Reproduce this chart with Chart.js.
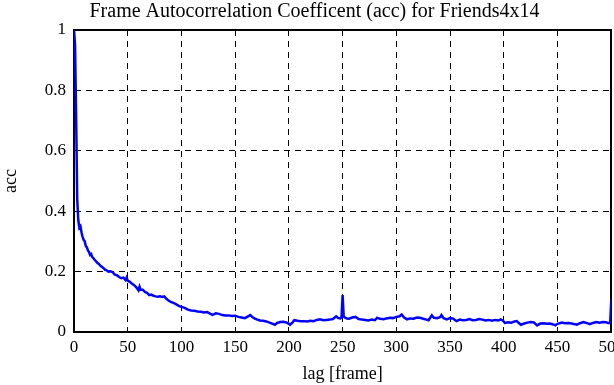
<!DOCTYPE html>
<html>
<head>
<meta charset="utf-8">
<script src="https://cdn.jsdelivr.net/npm/chart.js@4/dist/chart.umd.min.js"></script>
<style>
    html, body { margin: 0; padding: 0; background: #fff; overflow: hidden; }
    #wrap { position: relative; width: 629px; height: 385px; }
</style>
</head>
<body>
<div id="wrap"><canvas id="accChart"></canvas></div>
<script>
// Values
const titleText = 'Frame Autocorrelation Coefficent (acc) for Friends4x14';
const xLabel = 'lag [frame]';
const yLabel = 'acc';

const lags = [
    0, 1, 2, 3, 4, 5, 6, 7, 8, 9, 10, 11, 12, 13, 14, 15, 16, 17, 18, 19,
    20, 21, 22, 23, 24, 25, 26, 27, 28, 29, 30, 32, 34, 36, 38, 40, 42, 44, 46, 48,
    49, 50, 52, 54, 56, 58, 60, 61, 62, 64, 66, 68, 70, 72, 74, 76, 78, 80, 82, 84,
    86, 88, 90, 92, 94, 96, 98, 100, 103, 106, 109, 112, 115, 118, 121, 124, 127, 129, 132, 135,
    138, 141, 144, 147, 150, 153, 156, 159, 162, 164, 166, 168, 170, 173, 176, 179, 182, 185, 187, 189,
    192, 195, 198, 200, 201, 203, 205, 208, 211, 214, 217, 220, 223, 226, 229, 232, 235, 238, 241, 244,
    246, 248, 249, 250, 251, 252, 254, 256, 259, 262, 265, 268, 271, 274, 277, 280, 282, 285, 288, 291,
    294, 297, 300, 303, 305, 307, 310, 313, 316, 319, 322, 325, 328, 330, 333, 335, 338, 341, 342, 344,
    347, 350, 353, 356, 359, 362, 365, 368, 371, 374, 377, 380, 383, 386, 389, 392, 395, 397, 399, 401,
    404, 407, 410, 412, 414, 416, 419, 422, 425, 428, 431, 434, 437, 440, 443, 446, 448, 450, 452, 454,
    457, 460, 463, 466, 468, 471, 474, 477, 480, 483, 486, 489, 492, 495, 497, 499, 500
];

const acc = [
    1.0, 0.95, 0.71, 0.44, 0.37, 0.345, 0.35, 0.33, 0.315, 0.305, 0.30, 0.285, 0.28, 0.27, 0.265, 0.255, 0.258, 0.248, 0.245, 0.24,
    0.236, 0.232, 0.228, 0.226, 0.222, 0.218, 0.216, 0.213, 0.21, 0.206, 0.205, 0.20, 0.201, 0.198, 0.19, 0.188, 0.182, 0.178, 0.18, 0.172,
    0.18, 0.17, 0.166, 0.16, 0.155, 0.148, 0.138, 0.15, 0.14, 0.14, 0.133, 0.13, 0.122, 0.124, 0.12, 0.118, 0.117, 0.118, 0.116, 0.118,
    0.11, 0.104, 0.10, 0.097, 0.094, 0.09, 0.086, 0.083, 0.08, 0.074, 0.071, 0.07, 0.068, 0.067, 0.065, 0.066, 0.06, 0.057, 0.062, 0.06,
    0.056, 0.055, 0.055, 0.053, 0.054, 0.05, 0.048, 0.046, 0.052, 0.056, 0.05, 0.045, 0.042, 0.038, 0.037, 0.035, 0.031, 0.027, 0.024, 0.03,
    0.033, 0.034, 0.031, 0.027, 0.024, 0.03, 0.039, 0.037, 0.036, 0.036, 0.035, 0.037, 0.036, 0.04, 0.042, 0.039, 0.04, 0.041, 0.043, 0.052,
    0.046, 0.045, 0.05, 0.122, 0.052, 0.048, 0.045, 0.044, 0.048, 0.05, 0.043, 0.041, 0.04, 0.038, 0.041, 0.039, 0.047, 0.044, 0.042, 0.045,
    0.047, 0.046, 0.05, 0.052, 0.058, 0.049, 0.042, 0.045, 0.044, 0.048, 0.047, 0.044, 0.041, 0.039, 0.055, 0.047, 0.046, 0.05, 0.056, 0.046,
    0.042, 0.046, 0.044, 0.036, 0.041, 0.039, 0.04, 0.043, 0.039, 0.04, 0.043, 0.041, 0.038, 0.04, 0.037, 0.04, 0.038, 0.042, 0.038, 0.03,
    0.032, 0.031, 0.035, 0.036, 0.03, 0.024, 0.028, 0.031, 0.033, 0.032, 0.022, 0.028, 0.029, 0.027, 0.028, 0.025, 0.022, 0.027, 0.029, 0.031,
    0.029, 0.03, 0.028, 0.026, 0.024, 0.029, 0.033, 0.03, 0.026, 0.03, 0.033, 0.031, 0.033, 0.032, 0.03, 0.03, 0.107
];

const xMin = 0, xMax = 500, xStep = 50;
const yMin = 0, yMax = 1, yStep = 0.2;

const FONT = "'Liberation Serif', 'Times New Roman', serif";

const points = lags.map((l, i) => ({ x: l, y: acc[i] }));

// plain frame for top/right edges (no labels)
const frameAxis = (pos) => ({
    type: 'linear',
    position: pos,
    min: pos === 'top' ? xMin : yMin,
    max: pos === 'top' ? xMax : yMax,
    ticks: { display: false },
    grid: { display: false },
    border: { display: true, color: '#000', width: 2 },
    afterFit: (s) => { if (pos === 'top') s.height = 0; else s.width = 0; }
});

new Chart(document.getElementById('accChart'), {
    type: 'line',
    data: {
        datasets: [{
            label: yLabel,
            data: points,
            borderColor: '#0000ff',
            backgroundColor: 'transparent',
            borderWidth: 2.5,
            pointRadius: 0,
            tension: 0
        }]
    },
    options: {
        responsive: true,
        maintainAspectRatio: false,
        animation: false,
        layout: { padding: { left: 0, right: 0, top: 0, bottom: 0 } },
        plugins: {
            legend: { display: false },
            tooltip: { enabled: false },
            title: {
                display: true,
                text: titleText,
                color: '#000',
                font: { family: FONT, size: 20, weight: 'normal' },
                padding: { top: 0, bottom: 6 }
            }
        },
        scales: {
            x: {
                type: 'linear',
                position: 'bottom',
                min: xMin, max: xMax,
                ticks: { stepSize: xStep, color: '#000', padding: 5, font: { family: FONT, size: 17 } },
                grid: { color: '#000', lineWidth: 1, drawTicks: false },
                border: { display: true, color: '#000', width: 2, dash: [6, 5] },
                title: { display: true, text: xLabel, color: '#000', padding: { top: 1, bottom: 0 }, font: { family: FONT, size: 18 } }
            },
            y: {
                type: 'linear',
                position: 'left',
                min: yMin, max: yMax,
                ticks: {
                    stepSize: yStep, color: '#000', padding: 8, font: { family: FONT, size: 17 },
                    callback: (v) => String(Math.round(v * 10) / 10)
                },
                grid: { color: '#000', lineWidth: 1, drawTicks: false },
                border: { display: true, color: '#000', width: 2, dash: [6, 5] },
                title: { display: true, text: yLabel, color: '#000', padding: { top: 0, bottom: 0 }, font: { family: FONT, size: 18 } },
                afterFit: (s) => { s.width = 74; }
            },
            x2: frameAxis('top'),
            y2: frameAxis('right')
        }
    }
});
</script>
</body>
</html>
